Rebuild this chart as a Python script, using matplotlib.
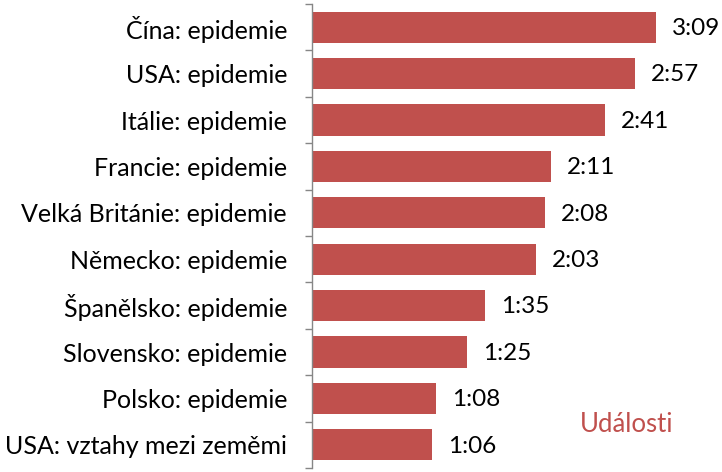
import matplotlib
matplotlib.use("Agg")
import matplotlib.pyplot as plt
import numpy as np

labels = [
    "Čína: epidemie",
    "USA: epidemie",
    "Itálie: epidemie",
    "Francie: epidemie",
    "Velká Británie: epidemie",
    "Německo: epidemie",
    "Španělsko: epidemie",
    "Slovensko: epidemie",
    "Polsko: epidemie",
    "USA: vztahy mezi zeměmi",
]
durations = ["3:09", "2:57", "2:41", "2:11", "2:08", "2:03", "1:35", "1:25", "1:08", "1:06"]
seconds = [int(d.split(":")[0]) * 60 + int(d.split(":")[1]) for d in durations]

red = "#C0504D"
grey = "#868686"
plt.rcParams["font.family"] = ["Lato", "DejaVu Sans"]

fig = plt.figure(figsize=(7.22, 4.72), dpi=100)
ax = fig.add_axes([312 / 722, 4 / 472, 410 / 722, 464 / 472])

y = np.arange(len(labels))
ax.barh(y, seconds, height=0.67, color=red, edgecolor="none")
ax.set_ylim(len(labels) - 0.5, -0.5)
ax.set_xlim(0, 225)

for yi, s, d in zip(y, seconds, durations):
    ax.annotate(d, (s, yi), xytext=(11.5, -1), textcoords="offset points",
                va="center", ha="left", fontsize=17.5, color="black")

ax.set_yticks(y)
ax.set_yticklabels(labels, fontsize=18)
ax.set_yticks(np.arange(len(labels) + 1) - 0.5, minor=True)
ax.tick_params(axis="y", which="major", length=0, pad=18)
ax.tick_params(axis="y", which="minor", length=5, width=1, color=grey, direction="out")
ax.set_xticks([])
for side in ["top", "right", "bottom"]:
    ax.spines[side].set_visible(False)
ax.spines["left"].set_color(grey)
ax.spines["left"].set_linewidth(1)

ax.text(627 / 722, 1 - 425 / 472, "Události", transform=fig.transFigure,
        color=red, fontsize=18.5, ha="center", va="center")

fig.savefig("out.png", dpi=100)
